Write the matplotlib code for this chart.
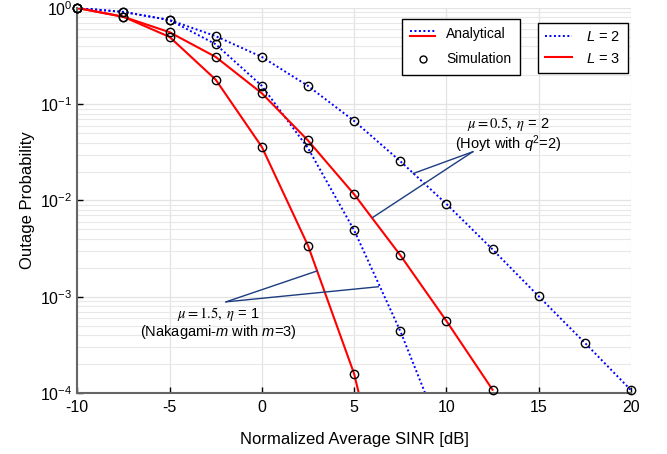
import numpy as np
import matplotlib
matplotlib.use("Agg")
import matplotlib.pyplot as plt
from matplotlib.lines import Line2D
from matplotlib.legend_handler import HandlerBase
from matplotlib.ticker import FixedLocator, FixedFormatter, LogLocator, NullFormatter

plt.rcParams['font.family'] = ['Liberation Sans', 'DejaVu Sans']
plt.rcParams['mathtext.fontset'] = 'custom'
plt.rcParams['mathtext.rm'] = 'Liberation Sans'
plt.rcParams['mathtext.it'] = 'Liberation Sans:italic'
plt.rcParams['mathtext.bf'] = 'Liberation Sans:bold'

# ---- data ----
snr_db = [-10, -7.5, -5, -2.5, 0, 2.5, 5, 7.5, 10, 12.5, 15, 17.5, 20]

# Hoyt (mu=0.5, eta=2), L=2
hoyt_L2_x = [-10, -7.5, -5, -2.5, 0, 2.5, 5, 7.5, 10, 12.5, 15, 17.5, 20]
hoyt_L2 = [1.0, 0.91, 0.75, 0.51, 0.31, 0.155, 0.067, 0.0256, 0.0092, 0.0031, 0.00101, 0.000332, 0.000107]
# Nakagami-m (mu=1.5, eta=1), L=2
nak_L2_x = [-10, -7.5, -5, -2.5, 0, 2.5, 5, 7.5]
nak_L2 = [1.0, 0.91, 0.75, 0.42, 0.155, 0.035, 0.0049, 0.00044]
nak_L2_ext_x = [10]
nak_L2_ext = [2.8e-5]
# Hoyt, L=3
hoyt_L3_x = [-10, -7.5, -5, -2.5, 0, 2.5, 5, 7.5, 10, 12.5]
hoyt_L3 = [1.0, 0.81, 0.56, 0.31, 0.13, 0.042, 0.0116, 0.0027, 0.00056, 0.000108]
# Nakagami-m, L=3
nak_L3_x = [-10, -7.5, -5, -2.5, 0, 2.5, 5]
nak_L3 = [1.0, 0.81, 0.50, 0.18, 0.036, 0.0034, 0.000158]
nak_L3_ext_x = [7.5]
nak_L3_ext = [1.6e-6]

x_ticks = [-10, -5, 0, 5, 10, 15, 20]
x_ticklabels = ['-10', '-5', '0', '5', '10', '15', '20']

fig = plt.figure(figsize=(6.67, 4.54), dpi=100)
ax = fig.add_axes([0.1159, 0.1344, 0.946 - 0.1159, 0.9824 - 0.1344])

blue = '#0000ff'
red = '#ff0000'
lw = 1.5

# analytical
ax.plot(hoyt_L2_x, hoyt_L2, ls=(0, (1, 1.3)), color=blue, lw=1.4)
ax.plot(nak_L2_x + nak_L2_ext_x, nak_L2 + nak_L2_ext, ls=(0, (1, 1.3)), color=blue, lw=1.4)
ax.plot(hoyt_L3_x, hoyt_L3, ls='-', color=red, lw=lw)
ax.plot(nak_L3_x + nak_L3_ext_x, nak_L3 + nak_L3_ext, ls='-', color=red, lw=lw)

# simulation markers
mk = dict(ls='none', marker='o', mfc='none', mec='black', ms=6, mew=1.0, zorder=5)
for xs, ys in [(hoyt_L2_x, hoyt_L2), (nak_L2_x, nak_L2), (hoyt_L3_x, hoyt_L3), (nak_L3_x, nak_L3)]:
    ax.plot(xs, ys, clip_on=False, **mk)

ax.set_yscale('log')
ax.set_xlim(-10, 20)
ax.set_ylim(1e-4, 1.0)

ax.xaxis.set_major_locator(FixedLocator(x_ticks))
ax.xaxis.set_major_formatter(FixedFormatter(x_ticklabels))
ax.yaxis.set_major_locator(LogLocator(base=10, numticks=10))
ax.yaxis.set_minor_locator(LogLocator(base=10, subs=np.arange(2, 10), numticks=20))
ax.yaxis.set_minor_formatter(NullFormatter())

ax.grid(True, which='major', color='#e3e3e3', lw=0.9)
ax.grid(True, which='minor', axis='y', color='#e8e8e8', lw=0.8)
ax.set_axisbelow(True)

for s in ['top', 'right']:
    ax.spines[s].set_visible(False)
for s in ['left', 'bottom']:
    ax.spines[s].set_color('#666666')
    ax.spines[s].set_linewidth(1.5)
ax.tick_params(which='major', direction='in', length=4, width=1, colors='black', labelsize=11.5)
ax.tick_params(which='minor', length=0)
ax.tick_params(axis='x', pad=5)

ax.set_xlabel('Normalized Average SINR [dB]', fontsize=12, labelpad=12)
ax.set_ylabel('Outage Probability', fontsize=12, labelpad=4)

# annotations
ann_c = '#1c3c80'
ax.plot([11.43, 8.21], [0.0321, 0.0191], color=ann_c, lw=1.0)
ax.plot([11.43, 6.01], [0.0321, 0.00667], color=ann_c, lw=1.0)
ax.plot([-1.94, 2.98], [8.85e-4, 1.85e-3], color=ann_c, lw=1.0)
ax.plot([-1.94, 6.31], [8.85e-4, 1.27e-3], color=ann_c, lw=1.0)

ax.text(13.34, 0.0625, r'$\mu = 0.5,\ \eta$ = 2', ha='center', va='center', fontsize=10.5,
        math_fontfamily='stix')
ax.text(13.34, 0.0388, r'(Hoyt with $q^{2}$=2)', ha='center', va='center', fontsize=10.5)
ax.text(-2.37, 6.6e-4, r'$\mu = 1.5,\ \eta$ = 1', ha='center', va='center', fontsize=10.5,
        math_fontfamily='stix')
ax.text(-2.37, 4.3e-4, r'(Nakagami-$m$ with $m$=3)', ha='center', va='center', fontsize=10.5)


class TwoLineHandler(HandlerBase):
    def create_artists(self, legend, orig_handle, xdescent, ydescent, width, height, fontsize, trans):
        x0, x1 = -xdescent, -xdescent + width
        yc = (height - ydescent) / 2
        l1 = Line2D([x0, x1], [yc + 0.22 * height] * 2, color=blue, ls=(0, (1, 1.3)), lw=1.4, transform=trans)
        l2 = Line2D([x0, x1], [yc - 0.22 * height] * 2, color=red, ls='-', lw=lw, transform=trans)
        return [l1, l2]


analytical_h = object()
sim_h = Line2D([], [], ls='none', marker='o', mfc='none', mec='black', ms=5, mew=1.0)
leg1 = fig.legend([analytical_h, sim_h], ['Analytical', 'Simulation'],
                  handler_map={analytical_h: TwoLineHandler()},
                  loc='upper left', bbox_to_anchor=(402 / 667, 1 - 19 / 454),
                  bbox_transform=fig.transFigure, borderaxespad=0,
                  fancybox=False, edgecolor='black', framealpha=1, fontsize=10,
                  handlelength=1.8, labelspacing=0.8, borderpad=0.6, handletextpad=0.8)
leg1.get_frame().set_linewidth(1.0)

l2_h = Line2D([], [], ls=(0, (1, 1.3)), color=blue, lw=1.4)
l3_h = Line2D([], [], ls='-', color=red, lw=lw)
leg2 = fig.legend([l2_h, l3_h], [r'$L$ = 2', r'$L$ = 3'],
                  loc='upper left', bbox_to_anchor=(538 / 667, 1 - 23 / 454),
                  bbox_transform=fig.transFigure, borderaxespad=0,
                  fancybox=False, edgecolor='black', framealpha=1, fontsize=10.5,
                  handlelength=1.8, labelspacing=0.5, borderpad=0.5, handletextpad=1.0)
leg2.get_frame().set_linewidth(1.0)

fig.savefig('out.png', dpi=100)
